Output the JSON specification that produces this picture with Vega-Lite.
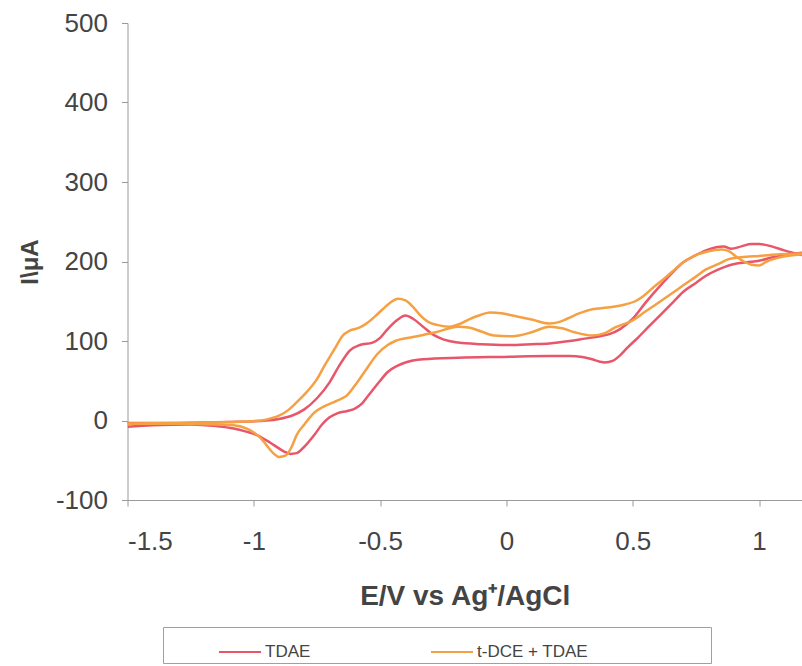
{
  "$schema": "https://vega.github.io/schema/vega-lite/v6.json",
  "width": 674.5,
  "height": 477,
  "autosize": {"type": "none"},
  "padding": {"left": 127.5, "top": 23, "right": 0, "bottom": 166},
  "background": "white",
  "config": {"view": {"stroke": null}, "font": "Liberation Sans"},
  "datasets": {
    "cv": [
      {"series": "TDAE", "branch": "TDAE up", "E": -1.5, "I": -3},
      {"series": "TDAE", "branch": "TDAE up", "E": -1.3, "I": -3},
      {"series": "TDAE", "branch": "TDAE up", "E": -1.1, "I": -2},
      {"series": "TDAE", "branch": "TDAE up", "E": -0.95, "I": 0},
      {"series": "TDAE", "branch": "TDAE up", "E": -0.9, "I": 2},
      {"series": "TDAE", "branch": "TDAE up", "E": -0.85, "I": 6},
      {"series": "TDAE", "branch": "TDAE up", "E": -0.8, "I": 14},
      {"series": "TDAE", "branch": "TDAE up", "E": -0.75, "I": 28},
      {"series": "TDAE", "branch": "TDAE up", "E": -0.7, "I": 48},
      {"series": "TDAE", "branch": "TDAE up", "E": -0.66, "I": 70},
      {"series": "TDAE", "branch": "TDAE up", "E": -0.62, "I": 88},
      {"series": "TDAE", "branch": "TDAE up", "E": -0.58, "I": 95},
      {"series": "TDAE", "branch": "TDAE up", "E": -0.53, "I": 98},
      {"series": "TDAE", "branch": "TDAE up", "E": -0.5, "I": 104},
      {"series": "TDAE", "branch": "TDAE up", "E": -0.47, "I": 115},
      {"series": "TDAE", "branch": "TDAE up", "E": -0.43, "I": 127},
      {"series": "TDAE", "branch": "TDAE up", "E": -0.4, "I": 132},
      {"series": "TDAE", "branch": "TDAE up", "E": -0.37, "I": 128},
      {"series": "TDAE", "branch": "TDAE up", "E": -0.33, "I": 118},
      {"series": "TDAE", "branch": "TDAE up", "E": -0.29, "I": 108},
      {"series": "TDAE", "branch": "TDAE up", "E": -0.25, "I": 102},
      {"series": "TDAE", "branch": "TDAE up", "E": -0.19, "I": 98},
      {"series": "TDAE", "branch": "TDAE up", "E": -0.1, "I": 96},
      {"series": "TDAE", "branch": "TDAE up", "E": 0.0, "I": 95},
      {"series": "TDAE", "branch": "TDAE up", "E": 0.1, "I": 96},
      {"series": "TDAE", "branch": "TDAE up", "E": 0.17, "I": 97},
      {"series": "TDAE", "branch": "TDAE up", "E": 0.25, "I": 100},
      {"series": "TDAE", "branch": "TDAE up", "E": 0.31, "I": 103},
      {"series": "TDAE", "branch": "TDAE up", "E": 0.37, "I": 106},
      {"series": "TDAE", "branch": "TDAE up", "E": 0.41, "I": 109},
      {"series": "TDAE", "branch": "TDAE up", "E": 0.45, "I": 115},
      {"series": "TDAE", "branch": "TDAE up", "E": 0.5, "I": 128},
      {"series": "TDAE", "branch": "TDAE up", "E": 0.55, "I": 148},
      {"series": "TDAE", "branch": "TDAE up", "E": 0.61, "I": 170},
      {"series": "TDAE", "branch": "TDAE up", "E": 0.66, "I": 187},
      {"series": "TDAE", "branch": "TDAE up", "E": 0.7, "I": 199},
      {"series": "TDAE", "branch": "TDAE up", "E": 0.75, "I": 208},
      {"series": "TDAE", "branch": "TDAE up", "E": 0.79, "I": 214},
      {"series": "TDAE", "branch": "TDAE up", "E": 0.83, "I": 218},
      {"series": "TDAE", "branch": "TDAE up", "E": 0.86, "I": 219},
      {"series": "TDAE", "branch": "TDAE up", "E": 0.89, "I": 216},
      {"series": "TDAE", "branch": "TDAE up", "E": 0.93, "I": 219},
      {"series": "TDAE", "branch": "TDAE up", "E": 0.97, "I": 222},
      {"series": "TDAE", "branch": "TDAE up", "E": 1.0, "I": 222},
      {"series": "TDAE", "branch": "TDAE up", "E": 1.05, "I": 219},
      {"series": "TDAE", "branch": "TDAE up", "E": 1.1, "I": 214},
      {"series": "TDAE", "branch": "TDAE up", "E": 1.17, "I": 208},

      {"series": "TDAE", "branch": "TDAE down", "E": -1.5, "I": -8},
      {"series": "TDAE", "branch": "TDAE down", "E": -1.4, "I": -6},
      {"series": "TDAE", "branch": "TDAE down", "E": -1.25, "I": -5},
      {"series": "TDAE", "branch": "TDAE down", "E": -1.15, "I": -7},
      {"series": "TDAE", "branch": "TDAE down", "E": -1.08, "I": -10},
      {"series": "TDAE", "branch": "TDAE down", "E": -1.03, "I": -14},
      {"series": "TDAE", "branch": "TDAE down", "E": -0.99, "I": -18},
      {"series": "TDAE", "branch": "TDAE down", "E": -0.95, "I": -25},
      {"series": "TDAE", "branch": "TDAE down", "E": -0.92, "I": -31},
      {"series": "TDAE", "branch": "TDAE down", "E": -0.88, "I": -39},
      {"series": "TDAE", "branch": "TDAE down", "E": -0.855, "I": -42},
      {"series": "TDAE", "branch": "TDAE down", "E": -0.83, "I": -41},
      {"series": "TDAE", "branch": "TDAE down", "E": -0.8, "I": -33},
      {"series": "TDAE", "branch": "TDAE down", "E": -0.76, "I": -18},
      {"series": "TDAE", "branch": "TDAE down", "E": -0.73, "I": -5},
      {"series": "TDAE", "branch": "TDAE down", "E": -0.7, "I": 4},
      {"series": "TDAE", "branch": "TDAE down", "E": -0.67, "I": 9},
      {"series": "TDAE", "branch": "TDAE down", "E": -0.63, "I": 12},
      {"series": "TDAE", "branch": "TDAE down", "E": -0.6, "I": 15},
      {"series": "TDAE", "branch": "TDAE down", "E": -0.57, "I": 22},
      {"series": "TDAE", "branch": "TDAE down", "E": -0.545, "I": 32},
      {"series": "TDAE", "branch": "TDAE down", "E": -0.5, "I": 50},
      {"series": "TDAE", "branch": "TDAE down", "E": -0.47, "I": 61},
      {"series": "TDAE", "branch": "TDAE down", "E": -0.43, "I": 69},
      {"series": "TDAE", "branch": "TDAE down", "E": -0.4, "I": 73},
      {"series": "TDAE", "branch": "TDAE down", "E": -0.33, "I": 77},
      {"series": "TDAE", "branch": "TDAE down", "E": -0.19, "I": 79},
      {"series": "TDAE", "branch": "TDAE down", "E": -0.01, "I": 80},
      {"series": "TDAE", "branch": "TDAE down", "E": 0.17, "I": 81},
      {"series": "TDAE", "branch": "TDAE down", "E": 0.25, "I": 81},
      {"series": "TDAE", "branch": "TDAE down", "E": 0.3, "I": 80},
      {"series": "TDAE", "branch": "TDAE down", "E": 0.34, "I": 77},
      {"series": "TDAE", "branch": "TDAE down", "E": 0.37, "I": 74},
      {"series": "TDAE", "branch": "TDAE down", "E": 0.39, "I": 73},
      {"series": "TDAE", "branch": "TDAE down", "E": 0.42, "I": 75},
      {"series": "TDAE", "branch": "TDAE down", "E": 0.45, "I": 82},
      {"series": "TDAE", "branch": "TDAE down", "E": 0.48, "I": 92},
      {"series": "TDAE", "branch": "TDAE down", "E": 0.52, "I": 104},
      {"series": "TDAE", "branch": "TDAE down", "E": 0.56, "I": 117},
      {"series": "TDAE", "branch": "TDAE down", "E": 0.61, "I": 133},
      {"series": "TDAE", "branch": "TDAE down", "E": 0.66, "I": 149},
      {"series": "TDAE", "branch": "TDAE down", "E": 0.7, "I": 162},
      {"series": "TDAE", "branch": "TDAE down", "E": 0.75, "I": 173},
      {"series": "TDAE", "branch": "TDAE down", "E": 0.79, "I": 182},
      {"series": "TDAE", "branch": "TDAE down", "E": 0.84, "I": 190},
      {"series": "TDAE", "branch": "TDAE down", "E": 0.88, "I": 195},
      {"series": "TDAE", "branch": "TDAE down", "E": 0.95, "I": 199},
      {"series": "TDAE", "branch": "TDAE down", "E": 1.0, "I": 201},
      {"series": "TDAE", "branch": "TDAE down", "E": 1.05, "I": 205},
      {"series": "TDAE", "branch": "TDAE down", "E": 1.1, "I": 208},
      {"series": "TDAE", "branch": "TDAE down", "E": 1.17, "I": 211},

      {"series": "t-DCE + TDAE", "branch": "DCE up", "E": -1.5, "I": -4},
      {"series": "t-DCE + TDAE", "branch": "DCE up", "E": -1.3, "I": -3},
      {"series": "t-DCE + TDAE", "branch": "DCE up", "E": -1.1, "I": -2},
      {"series": "t-DCE + TDAE", "branch": "DCE up", "E": -0.97, "I": 0},
      {"series": "t-DCE + TDAE", "branch": "DCE up", "E": -0.93, "I": 3},
      {"series": "t-DCE + TDAE", "branch": "DCE up", "E": -0.9, "I": 6},
      {"series": "t-DCE + TDAE", "branch": "DCE up", "E": -0.86, "I": 14},
      {"series": "t-DCE + TDAE", "branch": "DCE up", "E": -0.83, "I": 23},
      {"series": "t-DCE + TDAE", "branch": "DCE up", "E": -0.79, "I": 36},
      {"series": "t-DCE + TDAE", "branch": "DCE up", "E": -0.75, "I": 52},
      {"series": "t-DCE + TDAE", "branch": "DCE up", "E": -0.72, "I": 69},
      {"series": "t-DCE + TDAE", "branch": "DCE up", "E": -0.68, "I": 90},
      {"series": "t-DCE + TDAE", "branch": "DCE up", "E": -0.65, "I": 106},
      {"series": "t-DCE + TDAE", "branch": "DCE up", "E": -0.62, "I": 113},
      {"series": "t-DCE + TDAE", "branch": "DCE up", "E": -0.58, "I": 117},
      {"series": "t-DCE + TDAE", "branch": "DCE up", "E": -0.55, "I": 123},
      {"series": "t-DCE + TDAE", "branch": "DCE up", "E": -0.52, "I": 131},
      {"series": "t-DCE + TDAE", "branch": "DCE up", "E": -0.49, "I": 140},
      {"series": "t-DCE + TDAE", "branch": "DCE up", "E": -0.46, "I": 148},
      {"series": "t-DCE + TDAE", "branch": "DCE up", "E": -0.43, "I": 153},
      {"series": "t-DCE + TDAE", "branch": "DCE up", "E": -0.4, "I": 151},
      {"series": "t-DCE + TDAE", "branch": "DCE up", "E": -0.37, "I": 143},
      {"series": "t-DCE + TDAE", "branch": "DCE up", "E": -0.34, "I": 132},
      {"series": "t-DCE + TDAE", "branch": "DCE up", "E": -0.31, "I": 124},
      {"series": "t-DCE + TDAE", "branch": "DCE up", "E": -0.27, "I": 120},
      {"series": "t-DCE + TDAE", "branch": "DCE up", "E": -0.225, "I": 118},
      {"series": "t-DCE + TDAE", "branch": "DCE up", "E": -0.18, "I": 122},
      {"series": "t-DCE + TDAE", "branch": "DCE up", "E": -0.15, "I": 127},
      {"series": "t-DCE + TDAE", "branch": "DCE up", "E": -0.1, "I": 133},
      {"series": "t-DCE + TDAE", "branch": "DCE up", "E": -0.065, "I": 136},
      {"series": "t-DCE + TDAE", "branch": "DCE up", "E": -0.02, "I": 135},
      {"series": "t-DCE + TDAE", "branch": "DCE up", "E": 0.025, "I": 132},
      {"series": "t-DCE + TDAE", "branch": "DCE up", "E": 0.1, "I": 127},
      {"series": "t-DCE + TDAE", "branch": "DCE up", "E": 0.17, "I": 122},
      {"series": "t-DCE + TDAE", "branch": "DCE up", "E": 0.21, "I": 124},
      {"series": "t-DCE + TDAE", "branch": "DCE up", "E": 0.24, "I": 128},
      {"series": "t-DCE + TDAE", "branch": "DCE up", "E": 0.29, "I": 135},
      {"series": "t-DCE + TDAE", "branch": "DCE up", "E": 0.34, "I": 140},
      {"series": "t-DCE + TDAE", "branch": "DCE up", "E": 0.4, "I": 142},
      {"series": "t-DCE + TDAE", "branch": "DCE up", "E": 0.47, "I": 146},
      {"series": "t-DCE + TDAE", "branch": "DCE up", "E": 0.51, "I": 150},
      {"series": "t-DCE + TDAE", "branch": "DCE up", "E": 0.54, "I": 156},
      {"series": "t-DCE + TDAE", "branch": "DCE up", "E": 0.58, "I": 167},
      {"series": "t-DCE + TDAE", "branch": "DCE up", "E": 0.63, "I": 180},
      {"series": "t-DCE + TDAE", "branch": "DCE up", "E": 0.67, "I": 191},
      {"series": "t-DCE + TDAE", "branch": "DCE up", "E": 0.7, "I": 199},
      {"series": "t-DCE + TDAE", "branch": "DCE up", "E": 0.75, "I": 208},
      {"series": "t-DCE + TDAE", "branch": "DCE up", "E": 0.8, "I": 213},
      {"series": "t-DCE + TDAE", "branch": "DCE up", "E": 0.85, "I": 215},
      {"series": "t-DCE + TDAE", "branch": "DCE up", "E": 0.88, "I": 213},
      {"series": "t-DCE + TDAE", "branch": "DCE up", "E": 0.91, "I": 206},
      {"series": "t-DCE + TDAE", "branch": "DCE up", "E": 0.94, "I": 200},
      {"series": "t-DCE + TDAE", "branch": "DCE up", "E": 0.97, "I": 196},
      {"series": "t-DCE + TDAE", "branch": "DCE up", "E": 1.0, "I": 195},
      {"series": "t-DCE + TDAE", "branch": "DCE up", "E": 1.03, "I": 200},
      {"series": "t-DCE + TDAE", "branch": "DCE up", "E": 1.08, "I": 205},
      {"series": "t-DCE + TDAE", "branch": "DCE up", "E": 1.17, "I": 209},

      {"series": "t-DCE + TDAE", "branch": "DCE down", "E": -1.5, "I": -4},
      {"series": "t-DCE + TDAE", "branch": "DCE down", "E": -1.3, "I": -4},
      {"series": "t-DCE + TDAE", "branch": "DCE down", "E": -1.15, "I": -5},
      {"series": "t-DCE + TDAE", "branch": "DCE down", "E": -1.08, "I": -6},
      {"series": "t-DCE + TDAE", "branch": "DCE down", "E": -1.03, "I": -10},
      {"series": "t-DCE + TDAE", "branch": "DCE down", "E": -1.0, "I": -15},
      {"series": "t-DCE + TDAE", "branch": "DCE down", "E": -0.97, "I": -23},
      {"series": "t-DCE + TDAE", "branch": "DCE down", "E": -0.95, "I": -31},
      {"series": "t-DCE + TDAE", "branch": "DCE down", "E": -0.92, "I": -42},
      {"series": "t-DCE + TDAE", "branch": "DCE down", "E": -0.9, "I": -46},
      {"series": "t-DCE + TDAE", "branch": "DCE down", "E": -0.873, "I": -44},
      {"series": "t-DCE + TDAE", "branch": "DCE down", "E": -0.85, "I": -33},
      {"series": "t-DCE + TDAE", "branch": "DCE down", "E": -0.83, "I": -18},
      {"series": "t-DCE + TDAE", "branch": "DCE down", "E": -0.8, "I": -5},
      {"series": "t-DCE + TDAE", "branch": "DCE down", "E": -0.76, "I": 10},
      {"series": "t-DCE + TDAE", "branch": "DCE down", "E": -0.72, "I": 18},
      {"series": "t-DCE + TDAE", "branch": "DCE down", "E": -0.67, "I": 25},
      {"series": "t-DCE + TDAE", "branch": "DCE down", "E": -0.63, "I": 32},
      {"series": "t-DCE + TDAE", "branch": "DCE down", "E": -0.6, "I": 44},
      {"series": "t-DCE + TDAE", "branch": "DCE down", "E": -0.56, "I": 62},
      {"series": "t-DCE + TDAE", "branch": "DCE down", "E": -0.51, "I": 84},
      {"series": "t-DCE + TDAE", "branch": "DCE down", "E": -0.47, "I": 95},
      {"series": "t-DCE + TDAE", "branch": "DCE down", "E": -0.44, "I": 100},
      {"series": "t-DCE + TDAE", "branch": "DCE down", "E": -0.37, "I": 105},
      {"series": "t-DCE + TDAE", "branch": "DCE down", "E": -0.28, "I": 111},
      {"series": "t-DCE + TDAE", "branch": "DCE down", "E": -0.19, "I": 118},
      {"series": "t-DCE + TDAE", "branch": "DCE down", "E": -0.15, "I": 117},
      {"series": "t-DCE + TDAE", "branch": "DCE down", "E": -0.1, "I": 112},
      {"series": "t-DCE + TDAE", "branch": "DCE down", "E": -0.05, "I": 107},
      {"series": "t-DCE + TDAE", "branch": "DCE down", "E": 0.025, "I": 106},
      {"series": "t-DCE + TDAE", "branch": "DCE down", "E": 0.1, "I": 111},
      {"series": "t-DCE + TDAE", "branch": "DCE down", "E": 0.17, "I": 118},
      {"series": "t-DCE + TDAE", "branch": "DCE down", "E": 0.22, "I": 116},
      {"series": "t-DCE + TDAE", "branch": "DCE down", "E": 0.27, "I": 111},
      {"series": "t-DCE + TDAE", "branch": "DCE down", "E": 0.34, "I": 107},
      {"series": "t-DCE + TDAE", "branch": "DCE down", "E": 0.39, "I": 110},
      {"series": "t-DCE + TDAE", "branch": "DCE down", "E": 0.43, "I": 117},
      {"series": "t-DCE + TDAE", "branch": "DCE down", "E": 0.5, "I": 126},
      {"series": "t-DCE + TDAE", "branch": "DCE down", "E": 0.55, "I": 137},
      {"series": "t-DCE + TDAE", "branch": "DCE down", "E": 0.61, "I": 150},
      {"series": "t-DCE + TDAE", "branch": "DCE down", "E": 0.66, "I": 161},
      {"series": "t-DCE + TDAE", "branch": "DCE down", "E": 0.7, "I": 170},
      {"series": "t-DCE + TDAE", "branch": "DCE down", "E": 0.75, "I": 181},
      {"series": "t-DCE + TDAE", "branch": "DCE down", "E": 0.79, "I": 190},
      {"series": "t-DCE + TDAE", "branch": "DCE down", "E": 0.84, "I": 197},
      {"series": "t-DCE + TDAE", "branch": "DCE down", "E": 0.88, "I": 203},
      {"series": "t-DCE + TDAE", "branch": "DCE down", "E": 0.95, "I": 206},
      {"series": "t-DCE + TDAE", "branch": "DCE down", "E": 1.0, "I": 207},
      {"series": "t-DCE + TDAE", "branch": "DCE down", "E": 1.08, "I": 209},
      {"series": "t-DCE + TDAE", "branch": "DCE down", "E": 1.17, "I": 210}
    ]
  },
  "data": {"name": "cv"},
  "mark": {"type": "line", "clip": true, "strokeWidth": 2.5, "interpolate": "monotone"},
  "encoding": {
    "x": {
      "field": "E", "type": "quantitative",
      "scale": {"domain": [-1.5, 1.17], "nice": false, "zero": false},
      "axis": {
        "values": [-1.5, -1, -0.5, 0, 0.5, 1],
        "labelExpr": "'' + datum.value",
        "title": "E/V vs Ag⁺/AgCl",
        "grid": false,
        "domainColor": "#9a9a9a", "tickColor": "#9a9a9a", "tickSize": 6,
        "labelFontSize": 26, "labelColor": "#444444", "labelPadding": 22,
        "titleFontSize": 28, "titleFontWeight": "bold", "titleColor": "#444444", "titlePadding": 28
      }
    },
    "y": {
      "field": "I", "type": "quantitative",
      "scale": {"domain": [-100, 500], "nice": false},
      "axis": {
        "values": [-100, 0, 100, 200, 300, 400, 500],
        "labelExpr": "'' + datum.value",
        "title": "I\\μA",
        "grid": false,
        "domainColor": "#9a9a9a", "tickColor": "#9a9a9a", "tickSize": 6,
        "labelFontSize": 26, "labelColor": "#444444", "labelPadding": 14,
        "titleFontSize": 24, "titleFontWeight": "bold", "titleColor": "#444444", "titlePadding": 13
      }
    },
    "color": {
      "field": "series", "type": "nominal",
      "scale": {"domain": ["TDAE", "t-DCE + TDAE"], "range": ["#E8566A", "#F5A043"]},
      "legend": {
        "orient": "none", "legendX": 35.5, "legendY": 604,
        "direction": "horizontal",
        "title": "\u00a0", "titleOrient": "left", "titlePadding": 52,
        "symbolType": "stroke", "symbolSize": 1764, "symbolStrokeWidth": 2,
        "labelFontSize": 17, "labelColor": "#444444", "labelOffset": 3, "labelLimit": 400,
        "labelExpr": "datum.label == 't-DCE + TDAE' ? datum.label + '\u2800\u2800\u2800\u2800\u2800\u2800\u2800\u2800\u2800\u2800' : datum.label",
        "columnPadding": 116,
        "strokeColor": "#a0a0a0", "fillColor": "white", "padding": 3
      }
    },
    "detail": {"field": "branch", "type": "nominal"}
  }
}
